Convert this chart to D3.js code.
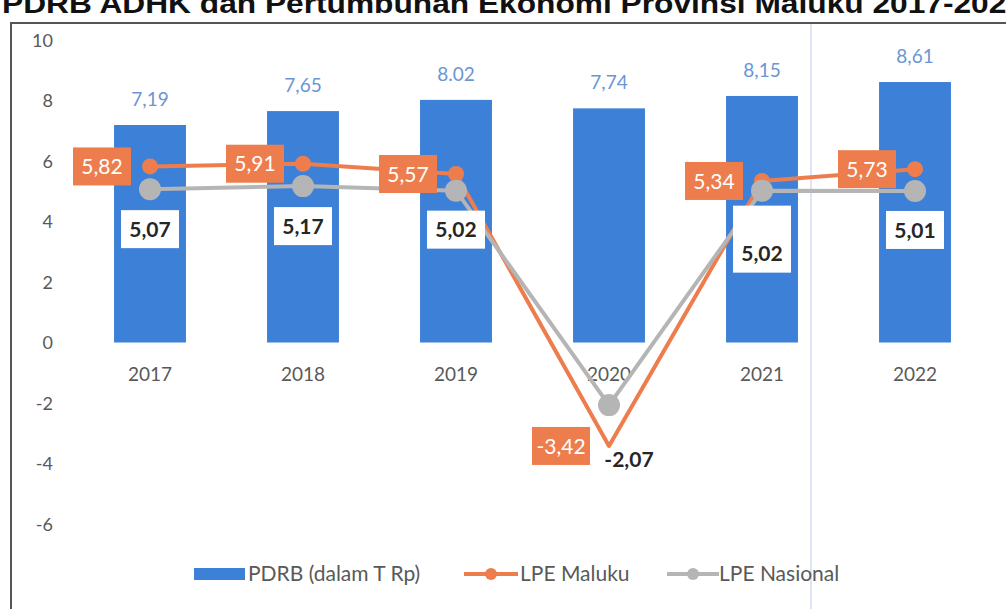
<!DOCTYPE html>
<html><head><meta charset="utf-8">
<script src="https://cdn.jsdelivr.net/npm/d3@7"></script>
<style>
html,body{margin:0;padding:0;background:#fff;}
svg{display:block;}
</style></head>
<body>
<svg id="chart" width="1006" height="609"></svg>
<script>
// ---- data ----
const years = ["2017","2018","2019","2020","2021","2022"];
const pdrb = [7.19, 7.65, 8.02, 7.74, 8.15, 8.61];
const pdrbLabels = ["7,19","7,65","8.02","7,74","8,15","8,61"];
const lpeMaluku = [5.82, 5.91, 5.57, -3.42, 5.34, 5.73];
const lpeNasional = [5.07, 5.17, 5.02, -2.07, 5.02, 5.01];
const yTicks = [10, 8, 6, 4, 2, 0, -2, -4, -6];
const seriesNames = ["PDRB (dalam T Rp)", "LPE Maluku", "LPE Nasional"];
const title = "PDRB ADHK dan Pertumbuhan Ekonomi Provinsi Maluku 2017-2022";

// ---- style / layout ----
const C = {bar:"#3d80d7", orange:"#ee7d4e", gray:"#b5b5b5", blueText:"#6b95d3", axisText:"#595959", dark:"#262626"};
const FONT = "Lato, 'Open Sans', sans-serif";
// manual label nudges for the national series (dx, dy of label centre, box height; 0 = no box)
const natLabelNudge = [[0,40,38],[0,40,38],[0,39,38],[20,54,0],[0,63,67],[0,39,38]];
const fmtComma = d => d.toFixed(2).replace(".", ",");

const svg = d3.select("#chart");

const x = d3.scaleBand().domain(years).range([73.5, 991.5]).paddingInner(0.53).paddingOuter(0.265);
const y = d3.scaleLinear().domain([-6, 10]).range([524, 40]);
const cx = d => x(d) + x.bandwidth()/2;

// title (clipped at the top, as in the scan)
svg.append("text").attr("x", 2).attr("y", 13)
  .attr("font-family", "'Liberation Sans', Arial, sans-serif").attr("font-weight", "bold")
  .attr("font-size", 27).attr("fill", "#111")
  .attr("textLength", 1022).attr("lengthAdjust", "spacingAndGlyphs")
  .text(title);

// frame
svg.append("line").attr("x1", 11).attr("x2", 1006).attr("y1", 23).attr("y2", 23).attr("stroke", "#555").attr("stroke-width", 2);
svg.append("line").attr("x1", 11).attr("x2", 11).attr("y1", 22).attr("y2", 609).attr("stroke", "#555").attr("stroke-width", 2);
// faint scan line
svg.append("line").attr("x1", 811).attr("x2", 811).attr("y1", 24).attr("y2", 609).attr("stroke", "#d3dcf2").attr("stroke-width", 1.5);

// y axis
const yAxis = d3.axisLeft(y).tickValues(yTicks).tickSize(0).tickPadding(0).tickFormat(d => String(d));
const yg = svg.append("g").attr("transform", "translate(53,0)").call(yAxis);
yg.select(".domain").remove();
yg.selectAll("text").attr("font-family", FONT).attr("font-size", 18).attr("fill", C.axisText).attr("dy", "0.35em");

// bars
svg.append("g").selectAll("rect").data(pdrb).join("rect")
  .attr("x", (d,i) => x(years[i])).attr("width", x.bandwidth())
  .attr("y", d => y(d)).attr("height", d => y(0) - y(d))
  .attr("fill", C.bar);

// bar value labels
svg.append("g").selectAll("text").data(pdrb).join("text")
  .attr("x", (d,i) => cx(years[i])).attr("y", d => y(d) - 26).attr("dy", "0.35em")
  .attr("text-anchor", "middle").attr("font-family", FONT).attr("font-size", 19).attr("fill", C.blueText)
  .text((d,i) => pdrbLabels[i]);

// x axis labels
const xAxis = d3.axisBottom(x).tickSize(0).tickPadding(0);
const xg = svg.append("g").attr("transform", "translate(0,374)").call(xAxis);
xg.select(".domain").remove();
xg.selectAll("text").attr("font-family", FONT).attr("font-size", 19).attr("fill", C.axisText).attr("dy", "0.35em");

// lines
const line = d3.line().x((d,i) => cx(years[i])).y(d => y(d));
svg.append("path").datum(lpeMaluku).attr("d", line).attr("fill", "none")
  .attr("stroke", C.orange).attr("stroke-width", 4).attr("stroke-linejoin", "round");
svg.append("g").selectAll("circle").data(lpeMaluku.map((v,i)=>({v,i})).filter(d => years[d.i] !== "2020")).join("circle")
  .attr("cx", d => cx(years[d.i])).attr("cy", d => y(d.v)).attr("r", 8).attr("fill", C.orange);

svg.append("path").datum(lpeNasional).attr("d", line).attr("fill", "none")
  .attr("stroke", C.gray).attr("stroke-width", 4).attr("stroke-linejoin", "round");
svg.append("g").selectAll("circle").data(lpeNasional).join("circle")
  .attr("cx", (d,i) => cx(years[i])).attr("cy", d => y(d)).attr("r", 11).attr("fill", C.gray);

// Maluku labels (orange boxes to the left)
const ml = svg.append("g").selectAll("g").data(lpeMaluku).join("g")
  .attr("transform", (d,i) => `translate(${cx(years[i]) - 48},${y(d)})`);
ml.append("rect").attr("x", -29).attr("y", -19).attr("width", 58).attr("height", 38).attr("fill", C.orange);
ml.append("text").attr("text-anchor", "middle").attr("dy", "0.36em")
  .attr("font-family", FONT).attr("font-size", 21).attr("fill", "#fff")
  .text(fmtComma);

// Nasional labels (white boxes below)
const nl = svg.append("g").selectAll("g").data(lpeNasional).join("g")
  .attr("transform", (d,i) => `translate(${cx(years[i]) + natLabelNudge[i][0]},${y(d) + natLabelNudge[i][1]})`);
nl.each(function(d,i){
  const h = natLabelNudge[i][2];
  if (h > 0) d3.select(this).append("rect").attr("x", -29).attr("y", -19 - (h - 38)).attr("width", 58).attr("height", h).attr("fill", "#fff");
});
nl.append("text").attr("text-anchor", "middle").attr("dy", "0.36em")
  .attr("font-family", FONT).attr("font-weight", "bold").attr("font-size", 21).attr("fill", C.dark)
  .text(fmtComma);

// legend
const LFS = 21;
const lg = svg.append("g").attr("transform", "translate(0,574)");
lg.append("rect").attr("x", 194).attr("y", -6).attr("width", 51).attr("height", 12).attr("fill", C.bar);
lg.append("text").attr("x", 248).attr("dy", "0.35em").attr("font-family", FONT).attr("font-size", LFS).attr("fill", C.axisText).text(seriesNames[0]);
lg.append("line").attr("x1", 464).attr("x2", 518).attr("stroke", C.orange).attr("stroke-width", 4);
lg.append("circle").attr("cx", 491).attr("r", 6).attr("fill", C.orange);
lg.append("text").attr("x", 520).attr("dy", "0.35em").attr("font-family", FONT).attr("font-size", LFS).attr("fill", C.axisText).text(seriesNames[1]);
lg.append("line").attr("x1", 667).attr("x2", 719).attr("stroke", C.gray).attr("stroke-width", 4);
lg.append("circle").attr("cx", 693).attr("r", 6).attr("fill", C.gray);
lg.append("text").attr("x", 719).attr("dy", "0.35em").attr("font-family", FONT).attr("font-size", LFS).attr("fill", C.axisText).text(seriesNames[2]);
</script>
</body></html>
